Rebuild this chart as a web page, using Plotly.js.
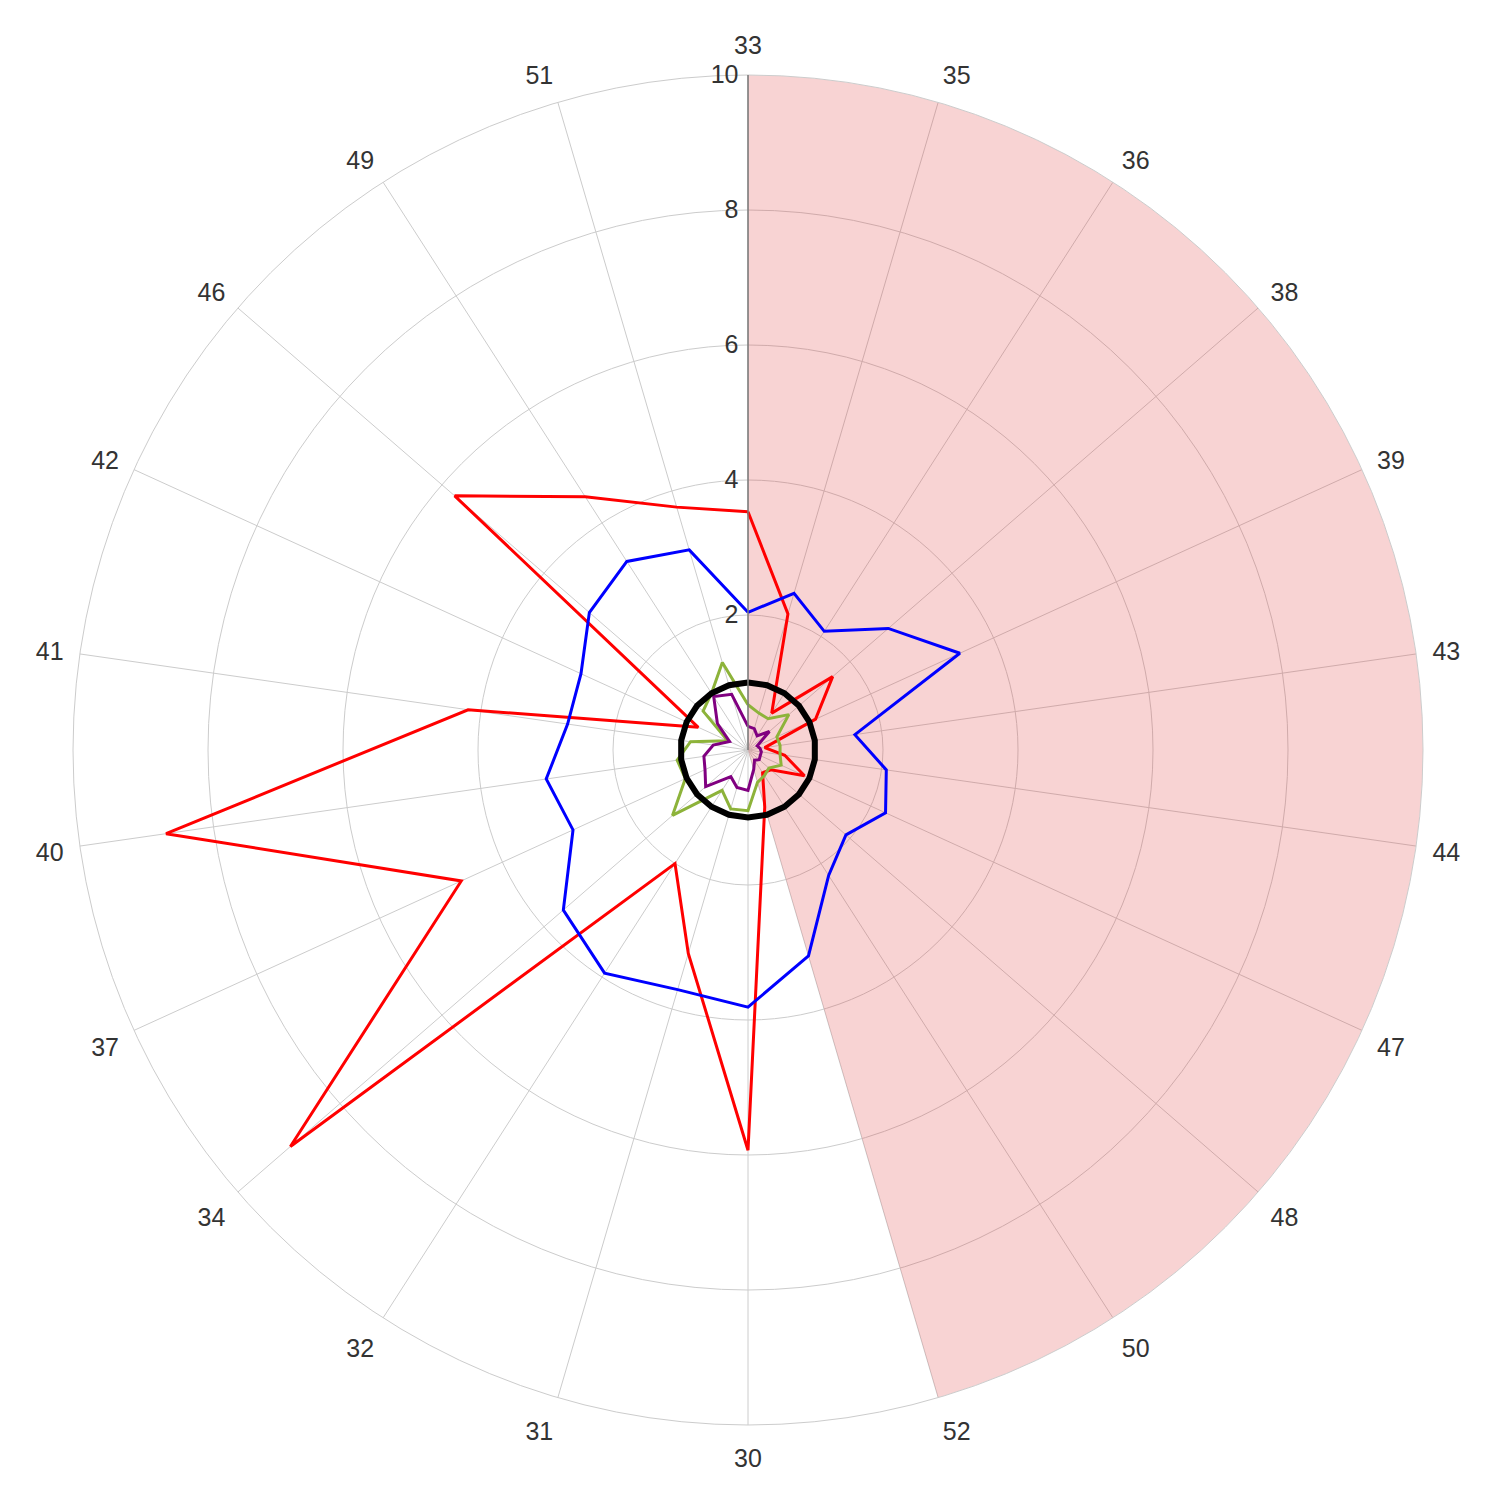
<!DOCTYPE html>
<html><head><meta charset="utf-8">
<script src="https://cdn.plot.ly/plotly-3.0.1.min.js"></script>
<style>body{margin:0;background:#fff}#chart{width:1500px;height:1500px}</style>
</head><body><div id="chart"></div>
<script>
const categories = ["33","35","36","38","39","43","44","47","48","50","52","30","31","32","34","37","40","41","42","46","49","51"];
const redValues    = [3.53, 2.1, 0.65, 1.66, 1.1, 0.25, 0.55, 0.92, 0.45, 0.4, 0.88, 5.93, 3.14, 2.0, 8.97, 4.67, 8.71, 4.19, 0.81, 5.75, 4.46, 3.75];
const blueValues   = [2.04, 2.42, 2.09, 2.75, 3.45, 1.6, 2.07, 2.24, 1.92, 2.21, 3.18, 3.81, 3.7, 3.93, 3.62, 2.85, 3.02, 2.7, 2.72, 3.11, 3.32, 3.09];
const greenValues  = [0.67, 0.57, 0.55, 0.8, 0.47, 0.48, 0.48, 0.54, 0.41, 0.45, 0.5, 0.9, 0.91, 0.71, 1.48, 1.02, 1.06, 0.86, 0.33, 0.88, 1.0, 1.35];
const purpleValues = [0.35, 0.33, 0.25, 0.42, 0.15, 0.18, 0.2, 0.2, 0.22, 0.18, 0.3, 0.6, 0.58, 0.47, 0.83, 0.7, 0.66, 0.52, 0.3, 0.6, 0.94, 0.86];
const referenceLevel = 1;
const shadeFrom = "33";
const shadeTo = "52";
const shadeLevel = 10;
const radialTicks = [2, 4, 6, 8, 10];

function closed(a) { return a.concat([a[0]]); }
const thetaClosed = closed(categories);
const shadeWidth = categories.indexOf(shadeTo) - categories.indexOf(shadeFrom);

function line(vals, color, width) {
  return {type: 'scatterpolar', mode: 'lines', r: closed(vals), theta: thetaClosed,
    line: {color: color, width: width}, hoverinfo: 'skip', showlegend: false};
}

const traces = [
  {type: 'barpolar', r: [shadeLevel], theta: [shadeFrom], width: [shadeWidth], offset: [0],
   marker: {color: 'rgb(225,55,55)', opacity: 0.22, line: {width: 0}}, hoverinfo: 'skip', showlegend: false},
  line(redValues, '#ff0000', 3),
  line(blueValues, '#0000ff', 3),
  line(greenValues, '#8db33a', 3),
  line(purpleValues, '#800080', 3),
  line(categories.map(() => referenceLevel), '#000000', 6)
];

const layout = {
  width: 1500, height: 1500,
  margin: {l: 73, r: 77, t: 75, b: 75},
  paper_bgcolor: '#ffffff',
  showlegend: false,
  font: {family: 'Liberation Sans, Arial, sans-serif', size: 25, color: '#333333'},
  polar: {
    bgcolor: '#ffffff',
    angularaxis: {type: 'category', categoryorder: 'array', categoryarray: categories,
      direction: 'clockwise', rotation: 90, showgrid: true, gridcolor: '#cccccc', gridwidth: 1,
      showline: true, linecolor: '#cccccc', linewidth: 1, ticks: 'outside', ticklen: 11,
      tickcolor: 'rgba(0,0,0,0)', tickfont: {size: 25, color: '#333333'}},
    radialaxis: {range: [0, 10], tickvals: radialTicks, ticktext: radialTicks.map(String), angle: 90,
      side: 'counterclockwise', showline: true, linecolor: '#7a7a7a', linewidth: 1.5, ticks: '',
      gridcolor: '#cccccc', gridwidth: 1, tickfont: {size: 25, color: '#333333'}, tickangle: 90,
      layer: 'above traces'}
  }
};

Plotly.newPlot('chart', traces, layout, {staticPlot: true});
</script></body></html>
